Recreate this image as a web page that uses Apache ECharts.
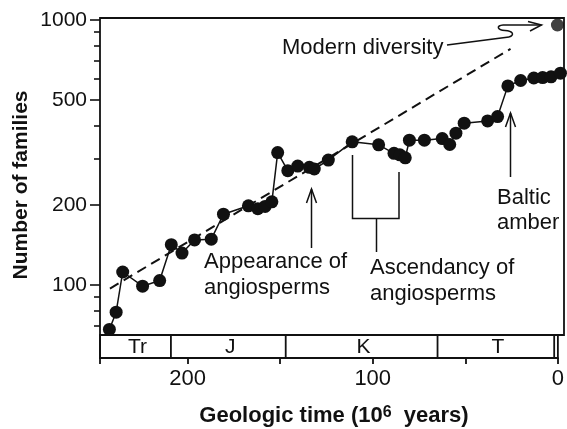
<!DOCTYPE html>
<html>
<head>
<meta charset="utf-8">
<script src="https://cdn.jsdelivr.net/npm/echarts@6/dist/echarts.min.js"></script>
<style>
  html, body { margin: 0; padding: 0; background: #fff; }
  #chart { width: 567px; height: 429px; }
</style>
</head>
<body>
<div id="chart"></div>
<script>
// age (10^6 years before present) and number of insect families
const timeMa = [242.3, 238.7, 235.2, 224.6, 215.5, 209.3, 203.6, 196.9, 188, 181.5,
  168.2, 163.2, 159.3, 155.7, 152.6, 147.2, 141.9, 135.7, 133.1, 125.6,
  112.9, 98.8, 90.6, 87.5, 84.6, 82.4, 74.4, 64.9, 60.9, 57.6,
  53.2, 40.7, 35.4, 29.9, 23.1, 16.1, 11.4, 6.9, 1.9]
const families = [68, 79, 112, 99, 104, 142, 132, 148, 149, 185,
  199, 194, 198, 206, 316, 270, 281, 278, 274, 296,
  347, 338, 314, 310, 302, 352, 352, 357, 339, 374,
  408, 416, 432, 564, 591, 604, 606, 610, 630]

// dashed trend line and modern diversity
const trendTime = [242, 28.5]
const trendFamilies = [97, 778]
const modernTime = [3.5]
const modernFamilies = [957]

// axis ticks
const yMajorTicks = [100, 200, 500, 1000]
const yMinorTicks = [70, 80, 90, 300, 400, 600, 700, 800, 900]

// geologic periods
const periodNames = ['Tr', 'J', 'K', 'T', '']
const periodStart = [247.3, 209, 147, 65, 2]
const periodEnd = [209, 147, 65, 2, 0]

const FONT = '"Liberation Sans", Arial, Helvetica, sans-serif'
const INK = '#111'
const X_MAX = 247.3

const chart = echarts.init(document.getElementById('chart'), null, { renderer: 'canvas' })

const yBase = {
  type: 'log',
  logBase: 10,
  gridIndex: 0,
  min: 64.8,
  max: 1017,
  position: 'left',
  axisLine: { show: false, onZero: false },
  splitLine: { show: false }
}

const stroke = { stroke: INK, lineWidth: 1.5, fill: null }

const option = {
  animation: false,
  textStyle: { fontFamily: FONT, color: INK },
  grid: [
    { left: 100, right: 3, top: 18, height: 317, show: true, borderColor: INK, borderWidth: 1.8 },
    { left: 100, right: 3, top: 335, height: 23, show: true, borderColor: INK, borderWidth: 1.8 }
  ],
  xAxis: [
    { type: 'value', gridIndex: 0, inverse: true, min: 0, max: X_MAX, show: false, axisLine: { onZero: false } },
    {
      type: 'value', gridIndex: 1, inverse: true, min: 0, max: X_MAX, interval: 50,
      axisLine: { onZero: false, lineStyle: { color: INK, width: 1.8 } },
      axisTick: { length: 6, lineStyle: { color: INK, width: 1.8 } },
      axisLabel: {
        fontSize: 22, color: INK, margin: 10,
        formatter: v => (v % 100 === 0 ? String(v) : '')
      },
      splitLine: { show: false }
    }
  ],
  yAxis: [
    {
      ...yBase,
      axisTick: { customValues: yMajorTicks, length: 10, lineStyle: { color: INK, width: 1.6 } },
      axisLabel: { customValues: yMajorTicks, fontSize: 21, color: INK, margin: 13, formatter: v => String(v) }
    },
    {
      ...yBase,
      axisTick: { customValues: yMinorTicks, length: 6, lineStyle: { color: INK, width: 1.6 } },
      axisLabel: { show: false }
    },
    { type: 'value', gridIndex: 1, min: 0, max: 1, show: false, axisLine: { onZero: false } }
  ],
  series: [
    {
      name: 'trend',
      type: 'line',
      xAxisIndex: 0, yAxisIndex: 0,
      data: trendTime.map((t, i) => [t, trendFamilies[i]]),
      symbol: 'none',
      lineStyle: { color: INK, width: 2, type: [10, 6] },
      z: 2
    },
    {
      name: 'families',
      type: 'line',
      xAxisIndex: 0, yAxisIndex: 0,
      data: timeMa.map((t, i) => [t, families[i]]),
      symbol: 'circle',
      symbolSize: 13,
      clip: false,
      itemStyle: { color: INK },
      lineStyle: { color: INK, width: 1.5 },
      z: 3
    },
    {
      name: 'modern',
      type: 'scatter',
      xAxisIndex: 0, yAxisIndex: 0,
      data: modernTime.map((t, i) => [t, modernFamilies[i]]),
      symbolSize: 13,
      itemStyle: { color: INK },
      z: 3
    },
    {
      name: 'periods',
      type: 'custom',
      xAxisIndex: 1, yAxisIndex: 2,
      data: periodStart.map((s, i) => [s, periodEnd[i]]),
      encode: { x: [0, 1] },
      renderItem(params, api) {
        const a = api.coord([api.value(0), 1])
        const b = api.coord([api.value(1), 0])
        return {
          type: 'group',
          children: [
            {
              type: 'line',
              shape: { x1: a[0], y1: a[1], x2: a[0], y2: b[1] },
              style: { stroke: INK, lineWidth: 1.8 }
            },
            {
              type: 'text',
              style: {
                text: periodNames[params.dataIndex],
                x: (a[0] + b[0]) / 2 + 2, y: (a[1] + b[1]) / 2 + 1,
                align: 'center', verticalAlign: 'middle',
                font: '21px ' + FONT, fill: INK
              }
            }
          ]
        }
      }
    }
  ],
  graphic: [
    {
      type: 'text', x: 21, y: 185, rotation: Math.PI / 2,
      style: {
        text: 'Number of families', align: 'center', verticalAlign: 'middle',
        font: 'bold 21px ' + FONT, fill: INK
      }
    },
    {
      type: 'text', x: 334, y: 416,
      style: {
        text: 'Geologic time (10{sup|6}  years)',
        align: 'center', verticalAlign: 'middle',
        font: 'bold 22px ' + FONT, fill: INK,
        rich: { sup: { fontSize: 16, fontWeight: 'bold', fontFamily: FONT, verticalAlign: 'top', lineHeight: 14 } }
      }
    },
    // annotations
    {
      type: 'text', x: 282, y: 48,
      style: { text: 'Modern diversity', verticalAlign: 'middle', font: '22px ' + FONT, fill: INK }
    },
    { type: 'line', shape: { x1: 447, y1: 45, x2: 509, y2: 37 }, style: stroke },
    {
      type: 'bezierCurve',
      shape: { x1: 509, y1: 37, cpx1: 515, cpy1: 35, cpx2: 513, cpy2: 31, x2: 505, y2: 30.5 },
      style: stroke
    },
    {
      type: 'bezierCurve',
      shape: { x1: 505, y1: 30.5, cpx1: 497, cpy1: 30, cpx2: 496, cpy2: 25.5, x2: 503, y2: 25 },
      style: stroke
    },
    { type: 'line', shape: { x1: 503, y1: 25, x2: 541.5, y2: 25 }, style: stroke },
    { type: 'polyline', shape: { points: [[528, 21.5], [541.5, 25], [530, 31]] }, style: stroke },
    {
      type: 'text', x: 204, y: 275,
      style: { text: 'Appearance of\nangiosperms', verticalAlign: 'middle', lineHeight: 26, font: '22px ' + FONT, fill: INK }
    },
    { type: 'polyline', shape: { points: [[311.5, 248], [311.5, 189]] }, style: stroke },
    { type: 'polyline', shape: { points: [[306.5, 203], [311.5, 189], [316.5, 203]] }, style: stroke },
    {
      type: 'text', x: 370, y: 281,
      style: { text: 'Ascendancy of\nangiosperms', verticalAlign: 'middle', lineHeight: 26, font: '22px ' + FONT, fill: INK }
    },
    { type: 'polyline', shape: { points: [[352.5, 155], [352.5, 218.5], [399, 218.5], [399, 172]] }, style: stroke },
    { type: 'polyline', shape: { points: [[376.5, 218.5], [376.5, 252]] }, style: stroke },
    {
      type: 'text', x: 497, y: 210,
      style: { text: 'Baltic\namber', verticalAlign: 'middle', lineHeight: 25, font: '22px ' + FONT, fill: INK }
    },
    { type: 'polyline', shape: { points: [[510.5, 177], [510.5, 113]] }, style: stroke },
    { type: 'polyline', shape: { points: [[505.5, 127], [510.5, 113], [515.5, 127]] }, style: stroke }
  ]
}

chart.setOption(option)
</script>
</body>
</html>
